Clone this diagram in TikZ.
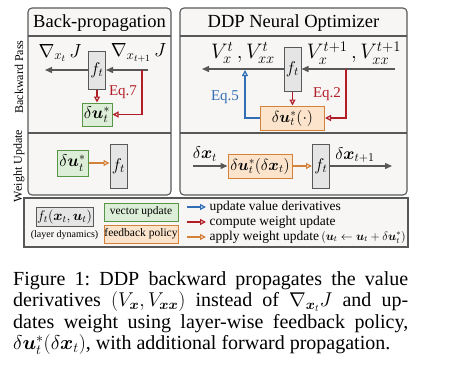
\RequirePackage{fix-cm}
\documentclass[tikz,border=0pt]{standalone}
\usepackage{amsmath,amssymb}
\usepackage{fontspec}
\setmainfont{Liberation Serif}
\usetikzlibrary{positioning,arrows.meta}
\definecolor{edgegray}{RGB}{88,88,88}
\definecolor{panelgray}{RGB}{247,246,245}
\definecolor{fgray}{RGB}{229,229,229}
\definecolor{vgreen}{RGB}{221,238,216}
\definecolor{vgreenline}{RGB}{86,150,70}
\definecolor{porange}{RGB}{252,228,204}
\definecolor{porangeline}{RGB}{212,130,58}
\definecolor{eqred}{RGB}{178,30,40}
\definecolor{eqblue}{RGB}{50,110,180}
\newcommand{\fsz}[1]{\fontsize{#1}{#1}\selectfont}

\begin{document}
\begin{tikzpicture}[x=1pt,y=-1pt,
  panel/.style={draw=edgegray,fill=panelgray,line width=1.1pt,rounded corners=4pt},
  fbox/.style={draw=edgegray,fill=fgray,line width=1pt,minimum width=17pt,minimum height=44pt,inner sep=0pt,font=\fsz{17}},
  vbox/.style={draw=vgreenline,fill=vgreen,line width=1pt,inner sep=0pt,font=\fsz{17}},
  pbox/.style={draw=porangeline,fill=porange,line width=1pt,inner sep=0pt,font=\fsz{16}},
  arr/.style={-{Triangle[length=7pt,width=6pt]},line width=1.3pt,draw=edgegray},
  oarr/.style={-{Triangle[open,length=6pt,width=6pt]},line width=1.2pt},
  lbl/.style={font=\fsz{21},inner sep=0pt},
  eq/.style={font=\fsz{15},inner sep=0pt},
  legtxt/.style={font=\fsz{13.5},anchor=west}]
\useasboundingbox (0,0) rectangle (475,367);
\fill[white] (0,0) rectangle (475,367);
\draw[panel] (28,8) rectangle (171,195);
\draw[panel] (180,8) rectangle (407,195);
\draw[edgegray,line width=1.1pt] (28,36) -- (171,36) (28,133) -- (171,133) (180,36) -- (407,36) (180,133) -- (407,133);
\draw[edgegray,line width=1.1pt,fill=panelgray] (24,198) rectangle (408,247);
\node[font=\fsz{18.5}] (bptitle) at (99.5,23) {Back-propagation};
\node[font=\fsz{18.5}] (ddptitle) at (293.5,23) {DDP Neural Optimizer};
\node[rotate=90,font=\fsz{12}] (bwlabel) at (19,77) {Backward Pass};
\node[rotate=90,font=\fsz{12}] (wulabel) at (19,166) {Weight Update};
% back-propagation
\node[fbox,minimum height=38pt] (ftbp) at (97,70) {$f_t$};
\node[vbox,minimum width=30pt,minimum height=23pt,below=13pt of ftbp] (dubp) {$\delta\boldsymbol{u}_t^*$};
\node[lbl,font=\fsz{19}] (gradout) at (60,53) {$\nabla_{x_t}\,J$};
\node[lbl,font=\fsz{19}] (gradin) at (138.5,53) {$\nabla_{x_{t+1}}\,J$};
\coordinate (inbp) at (148,70);
\coordinate (outbp) at (45,70);
\coordinate (tapbp) at (142,70);
\draw[arr] (inbp) -- (ftbp.east);
\draw[arr] (ftbp.west) -- (outbp);
\draw[oarr,eqred] (ftbp.south) -- (dubp.north);
\draw[oarr,eqred] (tapbp) |- (dubp.east);
\node[eq,text=eqred] (eq7) at (123,92) {Eq.7};
\node[vbox,minimum width=31pt,minimum height=26pt] (duwu) at (72.5,163) {$\delta\boldsymbol{u}_t^*$};
\node[fbox] (ftwu) at (118.5,166) {$f_t$};
\draw[oarr,porangeline] (duwu.east) -- (ftwu.west |- duwu.east);
% ddp
\node[fbox] (ftddp) at (292.5,69) {$f_t$};
\node[pbox,minimum width=64pt,minimum height=24pt,below=14pt of ftddp] (duddp) {$\delta\boldsymbol{u}_t^*(\cdot)$};
\node[lbl] (vout) at (243,53) {$V_x^t\,, V_{xx}^t$};
\node[lbl] (vin) at (354,53) {$V_x^{t+1}\,, V_{xx}^{t+1}$};
\coordinate (inddp) at (395,69);
\coordinate (outddp) at (202,69);
\coordinate (tapddp) at (346,69);
\coordinate (upddp) at (245,70);
\draw[arr] (inddp) -- (ftddp.east);
\draw[arr] (ftddp.west) -- (outddp);
\draw[oarr,eqred] (ftddp.south) -- (duddp.north);
\draw[oarr,eqred] (tapddp) |- (duddp.east);
\draw[oarr,eqblue] (duddp.west) -| (upddp);
\node[eq,text=eqred] (eq2) at (327,94) {Eq.2};
\node[eq,text=eqblue] (eq5) at (225,97) {Eq.5};
\node[pbox,minimum width=64pt,minimum height=24pt] (dufb) at (260,166) {$\delta\boldsymbol{u}_t^*(\delta\boldsymbol{x}_t)$};
\node[fbox] (ftfb) at (321,166) {$f_t$};
\coordinate (dxin) at (193,166);
\coordinate (dxout) at (392,166);
\draw[arr] (dxin) -- (dufb.west);
\draw[oarr,porangeline] (dufb.east) -- (ftfb.west);
\draw[arr] (ftfb.east) -- (dxout);
\node[lbl,font=\fsz{17}] (dxt) at (205,154) {$\delta\boldsymbol{x}_t$};
\node[lbl,font=\fsz{17}] (dxt1) at (355,155) {$\delta\boldsymbol{x}_{t+1}$};
% legend
\node[draw=edgegray,fill=fgray,line width=1pt,minimum width=57pt,minimum height=19pt,inner sep=0pt,font=\fsz{14}] (legf) at (64.5,216.5) {$f_t(\boldsymbol{x}_t,\boldsymbol{u}_t)$};
\node[font=\fsz{10},below=1pt of legf] (legdyn) {(layer dynamics)};
\node[vbox,minimum width=74pt,minimum height=18pt,font=\fsz{11.5}] (legvec) at (141,212) {vector update};
\node[pbox,minimum width=74pt,minimum height=18pt,font=\fsz{11.5},below=3pt of legvec] (legpol) {feedback policy};
\node[legtxt] (legblue) at (206,207) {update value derivatives};
\node[legtxt] (legred) at (206,222) {compute weight update};
\node[legtxt] (legorange) at (206,237) {apply weight update\,{\fsz{12}$(\boldsymbol{u}_t\leftarrow\boldsymbol{u}_t+\delta\boldsymbol{u}_t^*)$}};
\coordinate (lb) at (187,207);
\coordinate (lr) at (187,222);
\coordinate (lo) at (187,237);
\draw[oarr,eqblue] (lb) -- (legblue.west);
\draw[oarr,eqred] (lr) -- (legred.west);
\draw[oarr,porangeline] (lo) -- (legorange.west);
% caption
\node[anchor=north west,inner sep=0pt,text width=395pt,align=justify,font=\fontsize{20}{21.5}\selectfont\frenchspacing] (caption) at (13,271) {Figure 1: DDP backward propagates the value\linebreak derivatives $(V_{\boldsymbol{x}},V_{\boldsymbol{xx}})$ instead of $\nabla_{\boldsymbol{x}_t}J$ and up-\linebreak dates weight using layer-wise feedback policy,\linebreak $\delta\boldsymbol{u}_t^*(\delta\boldsymbol{x}_t)$, with additional forward propagation.};
\end{tikzpicture}
\end{document}
